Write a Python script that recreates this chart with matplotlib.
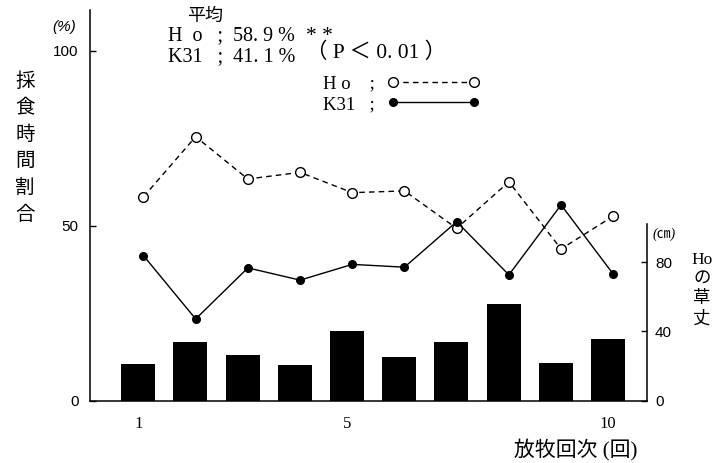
import matplotlib
matplotlib.use("Agg")
import matplotlib.pyplot as plt

plt.rcParams["font.family"] = ["Liberation Serif", "Noto Sans CJK JP"]

# データ
sessions = [1, 2, 3, 4, 5, 6, 7, 8, 9, 10]
ho_ratio = [58.2, 75.4, 63.3, 65.2, 59.4, 59.9, 49.2, 62.5, 43.3, 52.7]
k31_ratio = [41.4, 23.3, 37.9, 34.4, 38.9, 38.1, 51.1, 35.9, 55.9, 36.1]
ho_height = [20.9, 34.0, 26.5, 20.5, 40.2, 25.3, 34.0, 55.7, 21.7, 35.4]
xtick_sessions = [1, 5, 10]
left_ticks = [0, 50, 100]
right_ticks = [0, 40, 80]

BAR_SHIFT = -0.1
W, H = 727, 463


def fx(px):
    return px / W


def fy(py):
    return 1 - py / H


fig = plt.figure(figsize=(7.27, 4.63), dpi=100)
ax = fig.add_axes([fx(89.7), fy(400.5), (646.7 - 89.7) / W, (400.5 - 10) / H])
ax2 = ax.twinx()

# 採食時間割合
ax.plot(sessions, ho_ratio, color="black", lw=1.0, linestyle=(0, (4, 3)),
        marker="o", markersize=7, markerfacecolor="white",
        markeredgecolor="black", markeredgewidth=1.0,
        label="H o    ;", zorder=3)
ax.plot(sessions, k31_ratio, color="black", lw=1.0, marker="o",
        markersize=5.5, markerfacecolor="black", markeredgecolor="black",
        label="K31   ;", zorder=3)

# Hoの草丈
ax2.bar([s + BAR_SHIFT for s in sessions], ho_height, width=0.65,
        color="black", zorder=2)

ax.set_xlim(-0.03, 10.64)
ax.set_ylim(0, 111.6)
ax2.set_ylim(0, 225.6)

for sp in ["top", "right"]:
    ax.spines[sp].set_visible(False)
for sp in ["top", "left", "bottom"]:
    ax2.spines[sp].set_visible(False)
ax.spines["left"].set_linewidth(1.1)
ax.spines["bottom"].set_linewidth(1.1)
ax2.spines["right"].set_linewidth(1.1)
ax2.spines["right"].set_bounds(0, 102)

ax.set_yticks(left_ticks)
ax.set_yticklabels([str(t) for t in left_ticks], family="Liberation Sans",
                   fontsize=11)
ax.tick_params(axis="y", direction="in", length=4, width=1, pad=8)

ax.set_xticks([s + BAR_SHIFT for s in xtick_sessions])
ax.set_xticklabels([str(s) for s in xtick_sessions], fontsize=12)
ax.tick_params(axis="x", length=0, pad=11)

ax2.set_yticks(right_ticks)
ax2.set_yticklabels([str(t) for t in right_ticks], family="Liberation Sans",
                    fontsize=11)
ax2.tick_params(axis="y", direction="in", length=4, width=1, pad=6)

# 凡例
ax.legend(loc="upper left", bbox_to_anchor=(fx(323), fy(75)),
          bbox_transform=fig.transFigure, markerfirst=False, frameon=False,
          numpoints=2, handlelength=4.9, handletextpad=0.66,
          labelspacing=0.2, borderpad=0, borderaxespad=0,
          prop={"size": 13.5})

# 注記
fig.text(fx(205), fy(16), "平均", ha="center", va="center", fontsize=13)
fig.text(fx(168), fy(36), "H  o   ;  58. 9 %", ha="left", va="center",
         fontsize=14.5)
fig.text(fx(168), fy(57), "K31   ;  41. 1 %", ha="left", va="center",
         fontsize=14.5)
fig.text(fx(306), fy(58), "* *\n（ P ＜ 0. 01 ）", ha="left",
         va="baseline", fontsize=15.5, linespacing=0.8)
fig.text(fx(64), fy(27), "(%)", ha="center", va="center", fontsize=11,
         style="italic", family="Liberation Sans")
fig.text(fx(653), fy(234), "(㎝)", ha="left", va="center", fontsize=10,
         style="italic")

for i, ch in enumerate("採食時間割合"):
    fig.text(fx(25), fy(82 + 26.5 * i), ch, ha="center", va="center",
             fontsize=14)

for ch, yy in zip(["Ho", "の", "草", "丈"], [260, 280, 299, 320]):
    fig.text(fx(702), fy(yy), ch, ha="center", va="center", fontsize=12.5)

fig.text(fx(637), fy(450), "放牧回次 (回)", ha="right", va="center",
         fontsize=15)

fig.savefig("out.png", dpi=100)
plt.close(fig)
